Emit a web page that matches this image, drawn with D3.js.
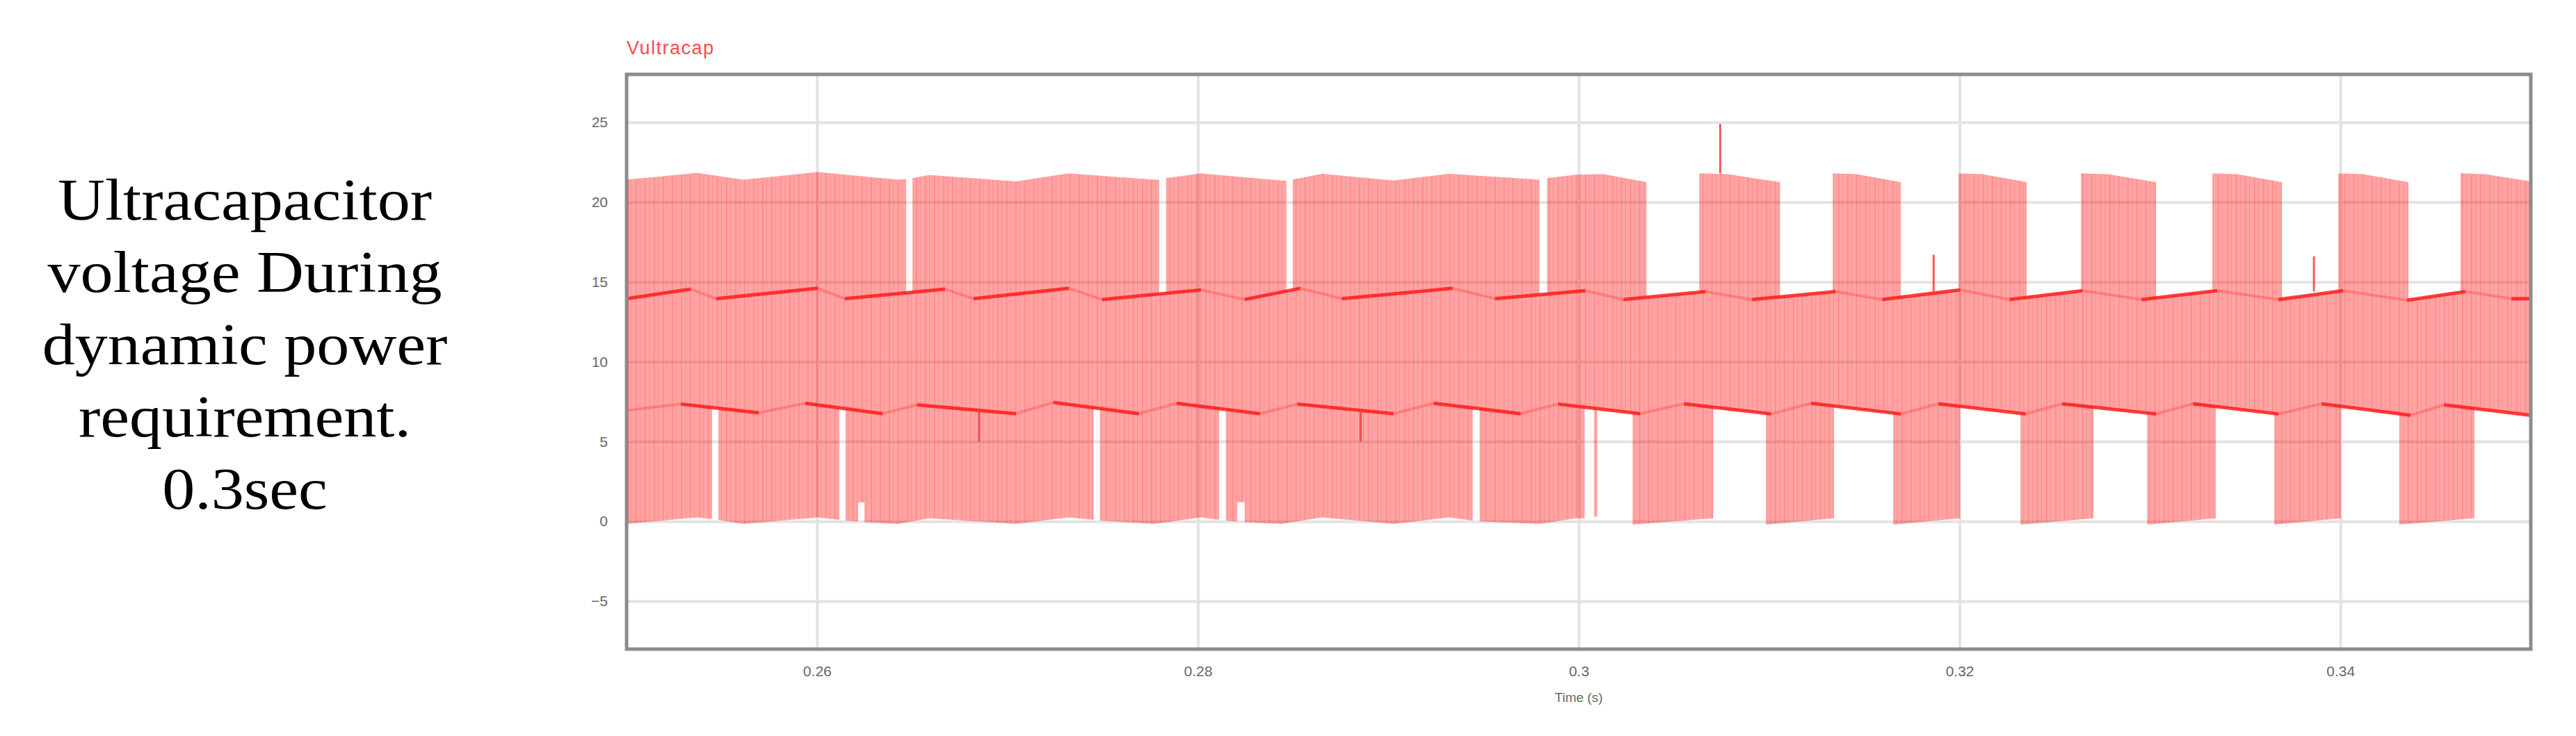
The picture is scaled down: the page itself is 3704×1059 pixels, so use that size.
<!DOCTYPE html>
<html>
<head>
<meta charset="utf-8">
<script src="https://cdn.jsdelivr.net/npm/d3@7"></script>
<style>
  body { margin: 0; background: #fff; }
</style>
</head>
<body>
<div id="chart"></div>
<script>
// axis ticks
var xTicks = [0.26, 0.28, 0.3, 0.32, 0.34];
var yTicks = [-5, 0, 5, 10, 15, 20, 25];

var captionLines = ["Ultracapacitor", "voltage During", "dynamic power", "requirement.", "0.3sec"];

// upper pulses: top of the waveform [time (s), V]
var upperBlocks = [
  [[0.25, 21.4], [0.25369, 21.83], [0.25613, 21.4], [0.26004, 21.88], [0.26428, 21.4], [0.26468, 21.45]],
  [[0.26501, 21.5], [0.26588, 21.7], [0.27045, 21.3], [0.27322, 21.8], [0.27771, 21.4], [0.27797, 21.4]],
  [[0.27833, 21.5], [0.28016, 21.8], [0.28439, 21.35], [0.28465, 21.35]],
  [[0.28498, 21.4], [0.28651, 21.78], [0.29027, 21.35], [0.29319, 21.78], [0.29794, 21.4]],
  [[0.29834, 21.5], [0.29987, 21.72], [0.3013, 21.75], [0.30356, 21.25]],
  [[0.30633, 21.8], [0.3078, 21.75], [0.31057, 21.25]],
  [[0.31334, 21.8], [0.31459, 21.75], [0.31692, 21.25]],
  [[0.31995, 21.8], [0.3212, 21.75], [0.32353, 21.25]],
  [[0.32638, 21.8], [0.32776, 21.75], [0.33032, 21.25]],
  [[0.33328, 21.8], [0.33456, 21.75], [0.33693, 21.25]],
  [[0.33989, 21.8], [0.34118, 21.75], [0.34357, 21.25]],
  [[0.34631, 21.8], [0.3476, 21.75], [0.35, 21.3]]
];

// lower pulses: bottom of the waveform [time (s), V]
var lowerBlocks = [
  [[0.25, -0.15], [0.25369, 0.25], [0.25449, 0.15]],
  [[0.25482, 0.1], [0.25613, -0.15], [0.26004, 0.25], [0.26117, 0.1]],
  [[0.2615, 0.05], [0.26216, 0.0]],
  [[0.26216, 1.2], [0.26249, 1.2]],
  [[0.26249, -0.05], [0.26428, -0.15], [0.26588, 0.2], [0.27045, -0.15], [0.27322, 0.25], [0.27453, 0.1]],
  [[0.27486, 0.05], [0.27771, -0.15], [0.28016, 0.25], [0.28111, 0.1]],
  [[0.28147, 0.05], [0.28206, 0.0]],
  [[0.28206, 1.2], [0.28246, 1.2]],
  [[0.28246, -0.05], [0.28439, -0.15], [0.28651, 0.25], [0.29027, -0.15], [0.29319, 0.25], [0.29443, 0.05]],
  [[0.2948, 0.0], [0.29794, -0.15], [0.29987, 0.2], [0.30031, 0.2]],
  [[0.30082, 0.3], [0.30097, 0.3]],
  [[0.30283, -0.2], [0.30707, 0.2]],
  [[0.30984, -0.2], [0.31341, 0.2]],
  [[0.31652, -0.2], [0.32003, 0.2]],
  [[0.3232, -0.2], [0.32704, 0.2]],
  [[0.32985, -0.2], [0.33346, 0.2]],
  [[0.33653, -0.2], [0.34003, 0.2]],
  [[0.3431, -0.2], [0.34704, 0.2]]
];

// the ~14 V level (trough, peak, trough, ...)
var midLine = [
  [0.25, 13.95], [0.25336, 14.55], [0.25471, 13.95], [0.26004, 14.6], [0.26146, 13.95], [0.26672, 14.55],
  [0.26822, 13.95], [0.27322, 14.6], [0.27497, 13.9], [0.28016, 14.5], [0.28246, 13.9], [0.28538, 14.6],
  [0.28757, 13.95], [0.29337, 14.6], [0.2956, 13.95], [0.30035, 14.45], [0.30235, 13.9], [0.30666, 14.4],
  [0.30911, 13.9], [0.31349, 14.4], [0.31594, 13.9], [0.32003, 14.5], [0.32262, 13.9], [0.32645, 14.45],
  [0.32956, 13.9], [0.33353, 14.45], [0.33675, 13.9], [0.34014, 14.45], [0.3435, 13.85], [0.34657, 14.4],
  [0.34898, 13.95], [0.35, 13.95]
];

// the ~7 V level
var lowLine = [
  [0.25, 6.95], [0.25285, 7.35], [0.25694, 6.8], [0.25938, 7.4], [0.26344, 6.75], [0.26526, 7.3],
  [0.27045, 6.75], [0.27242, 7.45], [0.27691, 6.75], [0.27888, 7.4], [0.28326, 6.75], [0.28523, 7.35],
  [0.29027, 6.75], [0.29239, 7.4], [0.29695, 6.75], [0.29892, 7.35], [0.30323, 6.75], [0.30553, 7.37],
  [0.3101, 6.73], [0.31221, 7.4], [0.31692, 6.73], [0.31889, 7.37], [0.32346, 6.73], [0.32539, 7.37],
  [0.33032, 6.73], [0.33226, 7.37], [0.33675, 6.73], [0.33901, 7.37], [0.34368, 6.65], [0.34544, 7.3],
  [0.35, 6.65]
];

// short spikes [time (s), from V, to V]
var spikes = [
  [0.25005, 0, 21.4],
  [0.30743, 21.8, 24.9],
  [0.31864, 14.4, 16.7],
  [0.33861, 14.4, 16.6],
  [0.26851, 7.0, 5.0],
  [0.28855, 7.0, 5.0]
];

var W = 3704, H = 1059;
var margin = {top: 107, right: 65, bottom: 125, left: 901},
    width = W - margin.left - margin.right,
    height = H - margin.top - margin.bottom;

var root = d3.select("#chart")
  .append("svg")
    .attr("width", W)
    .attr("height", H);

// caption on the left, a little stretched to match the wide book face
var cap = root.append("text")
    .attr("transform", "translate(352,316) scale(1.12,1)")
    .attr("text-anchor", "middle")
    .style("font-family", "'Liberation Serif', 'DejaVu Serif', serif")
    .style("font-size", "84px")
    .style("fill", "#000");
cap.selectAll("tspan")
  .data(captionLines)
  .enter()
  .append("tspan")
    .attr("x", 0)
    .attr("dy", (d, i) => i == 0 ? 0 : 104)
    .text(d => d);

var defs = root.append("defs");
defs.append("clipPath").attr("id", "plotclip")
  .append("rect").attr("width", width).attr("height", height);
var pat = defs.append("pattern")
    .attr("id", "stripes")
    .attr("patternUnits", "userSpaceOnUse")
    .attr("width", 13).attr("height", 20);
pat.append("rect").attr("x", 0).attr("width", 1.5).attr("height", 20).style("fill", "rgba(255,0,0,0.16)");
pat.append("rect").attr("x", 6).attr("width", 1).attr("height", 20).style("fill", "rgba(255,0,0,0.10)");

var svg = root.append("g")
    .attr("transform", "translate(" + margin.left + "," + margin.top + ")");

var x = d3.scaleLinear()
  .domain([0.25, 0.35])
  .range([0, width]);
var y = d3.scaleLinear()
  .domain([-8, 28])
  .range([height, 0]);

// grid
svg.append("g")
  .attr("class", "grid")
  .attr("transform", "translate(0," + height + ")")
  .call(d3.axisBottom(x).tickValues(xTicks).tickSize(-height).tickFormat(""));
svg.append("g")
  .attr("class", "grid")
  .call(d3.axisLeft(y).tickValues(yTicks).tickSize(-width).tickFormat(""));
svg.selectAll(".grid .domain").remove();
svg.selectAll(".grid line")
  .style("stroke", "#e3e3e3")
  .style("stroke-width", 4);

// waveform fill, one path so overlaps are painted once
var line = d3.line().x(d => x(d[0])).y(d => y(d[1]));
var polys = [];
polys.push(midLine.concat(lowLine.slice().reverse()));
upperBlocks.forEach(b => {
  polys.push(b.concat([[b[b.length - 1][0], 13.8], [b[0][0], 13.8]]));
});
lowerBlocks.forEach(b => {
  polys.push([[b[0][0], 7.5], [b[b.length - 1][0], 7.5]].concat(b.slice().reverse()));
});
var dPath = polys.map(p => line(p) + "Z").join("");

var wave = svg.append("g").attr("clip-path", "url(#plotclip)");
wave.append("path")
  .attr("d", dPath)
  .style("fill", "#ff0000")
  .style("fill-opacity", 0.36);
wave.append("path")
  .attr("d", dPath)
  .style("fill", "url(#stripes)");

// traces at the 14 V and 7 V levels: faint everywhere, darker where the signal dwells
wave.append("g")
  .selectAll("path")
  .data([midLine, lowLine])
  .enter()
  .append("path")
    .attr("d", d => line(d))
    .style("fill", "none")
    .style("stroke", "#ff2a2a")
    .style("stroke-opacity", 0.3)
    .style("stroke-width", 4);

var midSegs = [], lowSegs = [];
for (var i = 0; i + 1 < midLine.length; i += 2) midSegs.push([midLine[i], midLine[i + 1]]);
for (var j = 1; j + 1 < lowLine.length; j += 2) lowSegs.push([lowLine[j], lowLine[j + 1]]);
wave.append("g")
  .selectAll("path")
  .data(midSegs.concat(lowSegs))
  .enter()
  .append("path")
    .attr("d", d => line(d))
    .style("fill", "none")
    .style("stroke", "#ff1a1a")
    .style("stroke-opacity", 0.8)
    .style("stroke-width", 5);

wave.append("g")
  .selectAll("line")
  .data(spikes)
  .enter()
  .append("line")
    .attr("x1", d => x(d[0]))
    .attr("x2", d => x(d[0]))
    .attr("y1", d => y(d[1]))
    .attr("y2", d => y(d[2]))
    .style("stroke", "#ff3b3b")
    .style("stroke-opacity", 0.85)
    .style("stroke-width", 3);

// frame
svg.append("rect")
  .attr("width", width)
  .attr("height", height)
  .style("fill", "none")
  .style("stroke", "#8c8c8c")
  .style("stroke-width", 5);

// tick labels
svg.append("g")
  .attr("transform", "translate(0," + height + ")")
  .call(d3.axisBottom(x).tickValues(xTicks).tickSize(0).tickPadding(24).tickFormat(d3.format("~g")));
svg.append("g")
  .call(d3.axisLeft(y).tickValues(yTicks).tickSize(0).tickPadding(27));
svg.selectAll(".domain").remove();
svg.selectAll(".tick text")
  .style("font-family", "'Liberation Sans', Arial, sans-serif")
  .style("font-size", "21px")
  .style("fill", "#666");

svg.append("text")
  .attr("x", x(0.3))
  .attr("y", height + 76)
  .style("text-anchor", "middle")
  .style("font-family", "'Liberation Sans', Arial, sans-serif")
  .style("font-size", "19px")
  .style("fill", "#666")
  .text("Time (s)");

svg.append("text")
  .attr("x", 0)
  .attr("y", -29)
  .style("font-family", "'Liberation Sans', Arial, sans-serif")
  .style("font-size", "27px")
  .style("letter-spacing", "1.5px")
  .style("fill", "#ff4a4a")
  .text("Vultracap");
</script>
</body>
</html>
